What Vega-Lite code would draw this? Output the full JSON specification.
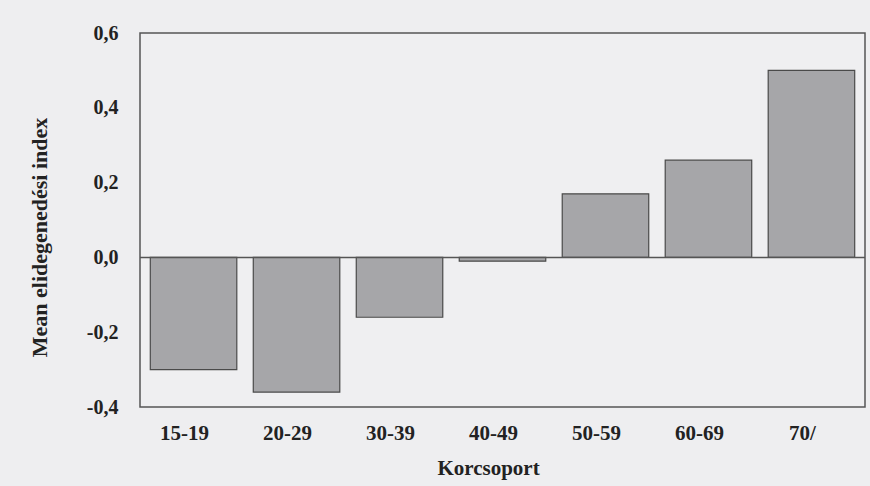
{
  "$schema": "https://vega.github.io/schema/vega-lite/v6.json",
  "autosize": {"type": "none"},
  "padding": {"left": 140, "top": 33, "right": 5, "bottom": 79},
  "width": 725,
  "height": 374,
  "background": "#eeeef0",
  "config": {
    "view": {"stroke": "#555555", "strokeWidth": 1.5, "fill": "#efeff1"},
    "font": "Liberation Serif"
  },
  "data": {
    "values": [
      {"group": "15-19", "index": -0.30},
      {"group": "20-29", "index": -0.36},
      {"group": "30-39", "index": -0.16},
      {"group": "40-49", "index": -0.01},
      {"group": "50-59", "index": 0.17},
      {"group": "60-69", "index": 0.26},
      {"group": "70/", "index": 0.50}
    ]
  },
  "layer": [
    {
      "mark": {"type": "bar", "fill": "#a6a6a9", "stroke": "#4a4a4a", "strokeWidth": 1.2},
      "encoding": {
        "x": {
          "field": "group",
          "type": "nominal",
          "sort": null,
          "scale": {"paddingInner": 0.16, "paddingOuter": 0.1},
          "axis": {
            "title": "Korcsoport",
            "titleFont": "Liberation Serif",
            "titleFontSize": 21,
            "titleFontWeight": "bold",
            "titleColor": "#222222",
            "titleX": 348,
            "titleY": 61,
            "titleAlign": "center",
            "titleBaseline": "middle",
            "labelFont": "Liberation Serif",
            "labelFontSize": 21,
            "labelFontWeight": "bold",
            "labelColor": "#222222",
            "labelAngle": 0,
            "labelPadding": 15,
            "labelOffset": -9,
            "ticks": false,
            "domain": false
          }
        },
        "y": {
          "field": "index",
          "type": "quantitative",
          "scale": {"domain": [-0.4, 0.6], "nice": false, "zero": false},
          "axis": {
            "values": [-0.4, -0.2, 0, 0.2, 0.4, 0.6],
            "labelExpr": "replace(replace(format(datum.value, '.1f'), '.', ','), '\u2212', '-')",
            "title": "Mean elidegenedési index",
            "titleFont": "Liberation Serif",
            "titleFontSize": 22,
            "titleFontWeight": "bold",
            "titleColor": "#222222",
            "titleAngle": -90,
            "titleX": -101,
            "titleY": 204,
            "titleAlign": "center",
            "titleBaseline": "middle",
            "labelFont": "Liberation Serif",
            "labelFontSize": 20,
            "labelFontWeight": "bold",
            "labelColor": "#222222",
            "labelPadding": 22,
            "ticks": false,
            "domain": false,
            "grid": false
          }
        }
      }
    },
    {
      "data": {"values": [{"y": 0}]},
      "mark": {"type": "rule", "stroke": "#555555", "strokeWidth": 1.5},
      "encoding": {"y": {"field": "y", "type": "quantitative"}}
    }
  ]
}
